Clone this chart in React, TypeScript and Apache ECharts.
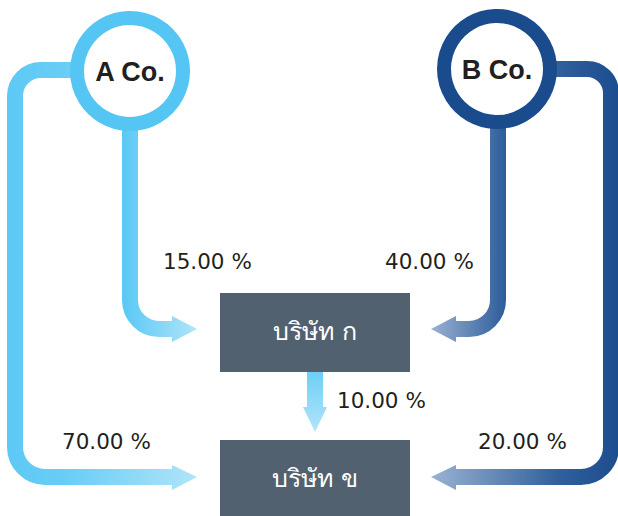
import React, { useEffect, useRef } from "react";
import * as echarts from "echarts";

// ---- data ----
const companies = ["A Co.", "B Co."];
const subsidiaries = ["บริษัท ก", "บริษัท ข"];
const flowSources = ["A Co.", "B Co.", "บริษัท ก", "A Co.", "B Co."];
const flowTargets = ["บริษัท ก", "บริษัท ก", "บริษัท ข", "บริษัท ข", "บริษัท ข"];
const flowPercents = [15, 40, 10, 70, 20];

const fmt = (v: number) => v.toFixed(2) + " %";

// ---- layout (positions / styles only) ----
const companyPos: Record<string, [number, number]> = {
  "A Co.": [130, 71],
  "B Co.": [497, 69],
};
const companyColor: Record<string, string> = {
  "A Co.": "#55c6f3",
  "B Co.": "#1a4b8c",
};
const boxRect: Record<string, [number, number, number, number]> = {
  "บริษัท ก": [220, 293, 190, 79],
  "บริษัท ข": [220, 440, 190, 79],
};

// path geometry per flow index
const flowPaths = [
  "M130 128 L130 300 A29 29 0 0 0 159 329 L173 329",
  "M498 128 L498 300 A29 29 0 0 1 469 329 L455 329",
  "M315 372 L315 408",
  "M76 70 L41 70 A26 26 0 0 0 15 96 L15 447 A30 30 0 0 0 45 477 L173 477",
  "M552 69 L587 69 A24 24 0 0 1 611 93 L611 447 A30 30 0 0 1 581 477 L455 477",
];
const flowHeads: number[][][] = [
  [[172, 316], [197, 329], [172, 342]],
  [[456, 316], [431, 329], [456, 342]],
  [[303, 407], [327, 407], [315, 432]],
  [[172, 465], [197, 477], [172, 490]],
  [[456, 465], [431, 477], [456, 490]],
];
const labelPos: [number, number, string][] = [
  [163, 261, "left"],
  [385, 261, "left"],
  [337, 400, "left"],
  [62, 441, "left"],
  [478, 441, "left"],
];

const grad = (x: number, y: number, x2: number, y2: number, stops: [number, string][]) => ({
  type: "linear",
  x,
  y,
  x2,
  y2,
  global: true,
  colorStops: stops.map(([offset, color]) => ({ offset, color })),
});

const flowGrads = [
  grad(123, 0, 197, 0, [[0, "#5ac8f5"], [1, "#b0e4f9"]]),
  grad(507, 0, 431, 0, [[0, "#2b5b9a"], [1, "#9ab2d2"]]),
  grad(0, 372, 0, 432, [[0, "#6dcff6"], [1, "#b3e5f9"]]),
  grad(7, 0, 197, 0, [[0, "#5dc9f5"], [0.3, "#68cdf5"], [1, "#b0e4f9"]]),
  grad(618, 0, 431, 0, [[0, "#1d4d8e"], [0.3, "#2e5e9b"], [1, "#9ab2d2"]]),
];

export default function App() {
  const ref = useRef<HTMLDivElement>(null);
  useEffect(() => {
    if (!ref.current) return;
    flowPaths.forEach((d, i) => {
      echarts.graphic.registerShape("flow" + i, echarts.graphic.extendPath(d, {}));
    });
    const chart = echarts.init(ref.current, null, { renderer: "svg", width: 618, height: 516 });
    const elements: any[] = [];
    flowPercents.forEach((v, i) => {
      elements.push({
        type: "flow" + i,
        x: 0,
        y: 0,
        style: { fill: null, stroke: flowGrads[i], lineWidth: 16, lineCap: "butt", lineJoin: "round" },
      });
      elements.push({
        type: "polygon",
        shape: { points: flowHeads[i] },
        style: { fill: flowGrads[i], stroke: null },
      });
      const [lx, ly, al] = labelPos[i];
      elements.push({
        type: "text",
        x: lx,
        y: ly,
        style: {
          text: fmt(v),
          font: "21.5px 'DejaVu Sans', sans-serif",
          fill: "#231f20",
          align: al,
          textAlign: al,
          verticalAlign: "middle",
          textVerticalAlign: "middle",
        },
      });
    });
    companies.forEach((c) => {
      const [cx, cy] = companyPos[c];
      elements.push({
        type: "circle",
        shape: { cx, cy, r: 53 },
        style: { fill: "#ffffff", stroke: companyColor[c], lineWidth: 14 },
      });
      elements.push({
        type: "text",
        x: cx,
        y: cy + 1,
        style: {
          text: c,
          font: "bold 27px 'Liberation Sans', Arial, sans-serif",
          fill: "#231f20",
          align: "center",
          textAlign: "center",
          verticalAlign: "middle",
          textVerticalAlign: "middle",
        },
      });
    });
    subsidiaries.forEach((s) => {
      const [x, y, w, h] = boxRect[s];
      elements.push({
        type: "rect",
        shape: { x, y, width: w, height: h },
        style: { fill: "#52616f" },
      });
      elements.push({
        type: "text",
        x: x + w / 2,
        y: y + 38,
        style: {
          text: s,
          font: "25px 'DejaVu Sans', 'Noto Sans', sans-serif",
          fill: "#ffffff",
          align: "center",
          textAlign: "center",
          verticalAlign: "middle",
          textVerticalAlign: "middle",
        },
      });
    });
    chart.setOption({ animation: false, graphic: { elements } });
    return () => chart.dispose();
  }, []);
  return (
    <div
      ref={ref}
      style={{ position: "fixed", left: 0, top: 0, width: 618, height: 516, background: "#ffffff" }}
    />
  );
}
